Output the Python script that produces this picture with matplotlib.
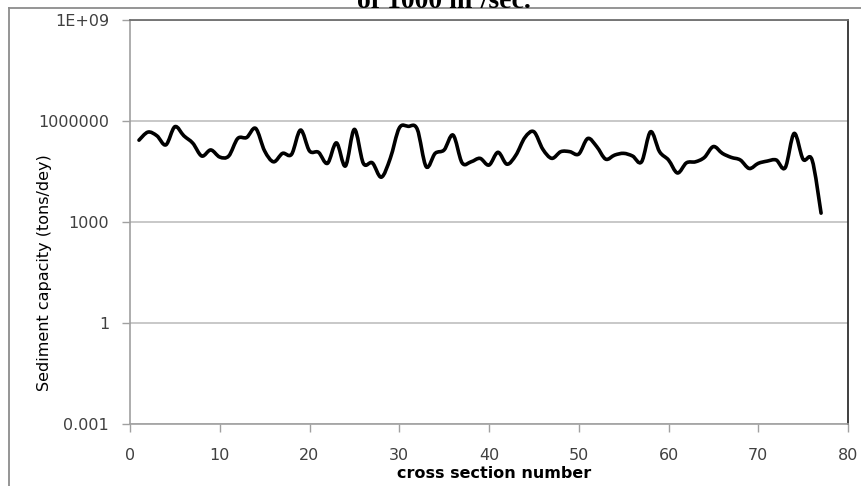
import numpy as np
import matplotlib
matplotlib.use("Agg")
import matplotlib.pyplot as plt
from matplotlib.path import Path
from matplotlib.patches import PathPatch
from matplotlib.lines import Line2D

# sediment transport capacity along the reach, one value per cross section
section = list(range(1, 78))
capacity = [
    263000, 457000, 355000, 191000, 661000, 355000, 214000, 89000, 135000, 83000,
    89000, 295000, 316000, 589000, 126000, 60000, 107000, 100000, 525000, 126000,
    115000, 54000, 219000, 45000, 550000, 54000, 56000, 21000, 76000, 603000,
    676000, 562000, 43000, 107000, 135000, 372000, 56000, 60000, 76000, 48000,
    115000, 51000, 95000, 316000, 468000, 141000, 76000, 120000, 120000, 102000,
    295000, 170000, 72000, 95000, 107000, 89000, 60000, 468000, 120000, 68000,
    28000, 56000, 60000, 81000, 170000, 107000, 81000, 68000, 38000, 54000,
    63000, 68000, 40000, 417000, 71000, 68000, 1800,
]
y_ticks = [1e-3, 1, 1e3, 1e6, 1e9]
y_ticklabels = ["0.001", "1", "1000", "1000000", "1E+09"]
x_ticks = [0, 10, 20, 30, 40, 50, 60, 70, 80]


def smooth_path(xs, ys):
    # Catmull-Rom style cubic Bezier through the points, built in log space
    px = np.asarray(xs, float)
    py = np.log10(np.asarray(ys, float))
    n = len(px)
    verts = [(px[0], 10 ** py[0])]
    codes = [Path.MOVETO]
    for i in range(n - 1):
        i0 = max(i - 1, 0)
        i3 = min(i + 2, n - 1)
        c1 = (px[i] + (px[i + 1] - px[i0]) / 6, py[i] + (py[i + 1] - py[i0]) / 6)
        c2 = (px[i + 1] - (px[i3] - px[i]) / 6, py[i + 1] - (py[i3] - py[i]) / 6)
        verts += [(c1[0], 10 ** c1[1]), (c2[0], 10 ** c2[1]), (px[i + 1], 10 ** py[i + 1])]
        codes += [Path.CURVE4] * 3
    return Path(verts, codes)


fig = plt.figure(figsize=(8.62, 4.86), dpi=100)
fig.patch.set_facecolor("white")

# outer chart frame: only the left and top edges fall inside the canvas
frame_x = 9.5 / 862
frame_y = 1 - 8.5 / 486
fig.lines.append(Line2D([frame_x, frame_x], [-0.05, frame_y], transform=fig.transFigure,
                        color="#8c8c8c", linewidth=1.3))
fig.lines.append(Line2D([frame_x, 1.05], [frame_y, frame_y], transform=fig.transFigure,
                        color="#8c8c8c", linewidth=1.3))

ax = fig.add_axes([130 / 862, 62 / 486, 718 / 862, 404.5 / 486])
ax.set_yscale("log")
ax.set_xlim(0, 80)
ax.set_ylim(1e-3, 1e9)

ax.add_patch(PathPatch(smooth_path(section, capacity), fill=False,
                       edgecolor="black", linewidth=2.6,
                       capstyle="round", joinstyle="round", zorder=3))

ax.set_yticks(y_ticks)
ax.set_yticklabels(y_ticklabels)
ax.yaxis.set_minor_locator(matplotlib.ticker.NullLocator())
ax.set_xticks(x_ticks)
ax.grid(axis="y", color="#c4c4c4", linewidth=1.3)
ax.set_axisbelow(True)

ax.tick_params(axis="both", direction="out", length=6, width=1,
               color="#a0a0a0", labelcolor="#404040", labelsize=11.5)
ax.tick_params(axis="y", pad=9)
ax.tick_params(axis="x", pad=11)

for side in ["left", "bottom"]:
    ax.spines[side].set_color("#a0a0a0")
    ax.spines[side].set_linewidth(1.2)
ax.spines["top"].set_color("#6e6e6e")
ax.spines["top"].set_linewidth(1.3)
ax.spines["right"].set_color("#303030")
ax.spines["right"].set_linewidth(1.3)

ax.set_ylabel("Sediment capacity (tons/dey)", fontsize=11.5, color="black")
ax.yaxis.set_label_coords(-0.108, 0.373)
ax.set_xlabel("cross section number", fontsize=11.5, fontweight="bold", color="black")
ax.xaxis.set_label_coords(0.507, -0.105)

# heading sits mostly above the visible area
fig.text(0.515, 1 - 7.5 / 486, "of 1000 m³/sec.", family="Liberation Serif",
         fontweight="bold", fontsize=20, ha="center", va="baseline")

fig.savefig("out.png", dpi=100)
